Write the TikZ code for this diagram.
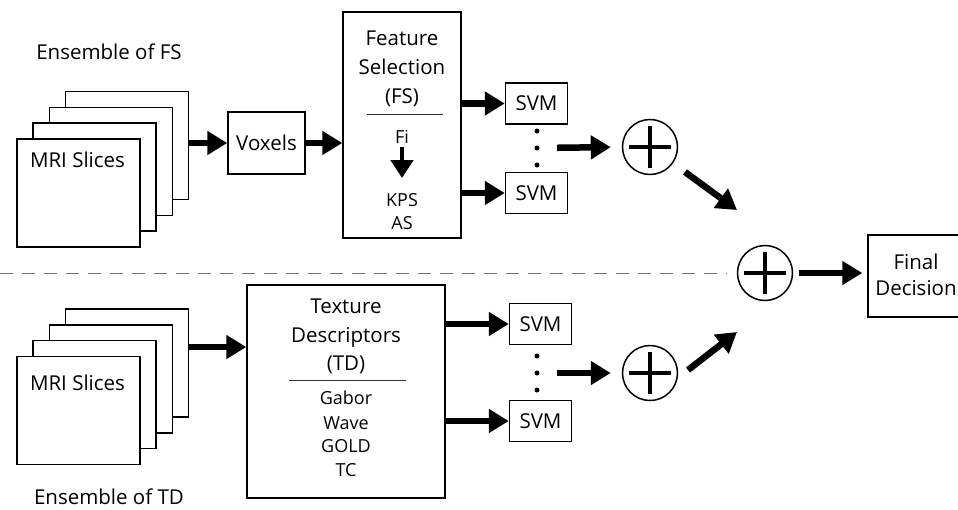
\documentclass[tikz,border=0pt]{standalone}
\usepackage{fontspec}
\setmainfont{Open Sans}
\usetikzlibrary{arrows.meta}
\begin{document}
\begin{tikzpicture}[x=1pt,y=-1pt,
  box/.style={draw,line width=1.5pt,fill=white,inner sep=0pt,
    font=\fontsize{20.5}{24}\selectfont,align=center},
  slice/.style={box,minimum width=123pt,minimum height=108pt},
  svmbox/.style={box,minimum width=62pt,minimum height=41pt},
  lbl/.style={font=\fontsize{20.5}{24}\selectfont,inner sep=0pt,anchor=base},
  small/.style={font=\fontsize{18}{22}\selectfont,inner sep=0pt,anchor=base},
  bigarrow/.style={line width=6.5pt,-{Triangle[length=20pt,width=23pt]}},
  midarrow/.style={line width=4.5pt,-{Triangle[length=18pt,width=22pt]}},
  dot/.style={circle,fill=black,inner sep=0pt,minimum size=5pt},
  rule/.style={line width=0.8pt,black!80},
  oplus/.style={circle,draw,line width=1.5pt,minimum size=55pt,inner sep=0pt,
    path picture={
      \draw[line width=4pt]
        ([xshift=-21pt]path picture bounding box.center) --
        ([xshift=21pt]path picture bounding box.center);
      \draw[line width=4pt]
        ([yshift=-21pt]path picture bounding box.center) --
        ([yshift=21pt]path picture bounding box.center);
    }},
]
\fill[white] (0,0) rectangle (958,509);
\useasboundingbox (0,0) rectangle (958,509);

% ---------- upper branch: feature selection ----------
\node[lbl] (ensFS) at (109,59) {Ensemble of FS};
\node[slice] (fsD) at (127,145.5) {};
\node[slice] (fsC) at (110.8,161.3) {};
\node[slice] (fsB) at (94.6,177.1) {};
\node[slice] (fsA) at (78.4,192.9) {};
\node[lbl] (mriA) at (77.5,167) {MRI Slices};

\node[box,minimum width=77pt,minimum height=62pt] (vox) at (266.5,143) {Voxels};

\node[box,minimum width=118pt,minimum height=226pt] (fs) at (402,125) {};
\node[lbl] (fsT1) at (402,45) {Feature};
\node[lbl] (fsT2) at (402,74) {Selection};
\node[lbl] (fsT3) at (402,103) {(FS)};
\coordinate (fsRuleL) at (367,114);
\coordinate (fsRuleR) at (443,114);
\draw[rule] (fsRuleL) -- (fsRuleR);
\node[small] (fi) at (402,143.5) {Fi};
\node[small] (kps) at (402,206.5) {KPS};
\node[small] (as) at (402,229.5) {AS};
\coordinate (fiA) at (402,147);
\coordinate (fiB) at (402,178);
\draw[midarrow] (fiA) -- (fiB);

\node[svmbox] (svmA1) at (536.5,103.5) {SVM};
\node[svmbox] (svmA2) at (536.5,193) {SVM};
\node[dot] (dA1) at (537,131) {};
\node[dot] (dA2) at (537,148) {};
\node[dot] (dA3) at (537,165) {};

\node[oplus] (plusA) at (650,147) {};

\draw[bigarrow] (vox.west -| fsD.east) -- (vox.west);
\draw[bigarrow] (vox.east) -- (vox.east -| fs.west);
\draw[bigarrow] (svmA1.west -| fs.east) -- (svmA1.west);
\draw[bigarrow] (svmA2.west -| fs.east) -- (svmA2.west);
\draw[bigarrow,shorten <=20pt,shorten >=11pt] (dA2.center) -- (plusA.west);

% ---------- separator ----------
\node[oplus] (plusC) at (765,273) {};
\coordinate (sepL) at (0,273);
\coordinate (sepR) at (727,273);
\draw[black!55,line width=1pt,dash pattern=on 13pt off 9pt] (sepL) -- (sepR);

% ---------- lower branch: texture descriptors ----------
\node[slice] (tdD) at (127,363) {};
\node[slice] (tdC) at (110.8,378.8) {};
\node[slice] (tdB) at (94.6,394.6) {};
\node[slice] (tdA) at (78.4,410.4) {};
\node[lbl] (mriB) at (77.5,390) {MRI Slices};
\node[lbl] (ensTD) at (109,504) {Ensemble of TD};

\node[box,minimum width=198pt,minimum height=213pt] (td) at (346,391.5) {};
\node[lbl] (tdT1) at (346,313) {Texture};
\node[lbl] (tdT2) at (346,342) {Descriptors};
\node[lbl] (tdT3) at (346,370) {(TD)};
\coordinate (tdRuleL) at (289,380);
\coordinate (tdRuleR) at (406,380);
\draw[rule] (tdRuleL) -- (tdRuleR);
\node[small] (gab) at (346,404.5) {Gabor};
\node[small] (wav) at (346,429.5) {Wave};
\node[small] (gold) at (346,452.5) {GOLD};
\node[small] (tc) at (346,476.5) {TC};

\node[svmbox] (svmB1) at (540.5,324) {SVM};
\node[svmbox] (svmB2) at (540.5,421) {SVM};
\node[dot] (dB1) at (537,356) {};
\node[dot] (dB2) at (537,373) {};
\node[dot] (dB3) at (537,390) {};

\node[oplus] (plusB) at (650,373) {};

\draw[bigarrow] (tdD.east |- 0,347) -- (td.west |- 0,347);
\draw[bigarrow] (svmB1.west -| td.east) -- (svmB1.west);
\draw[bigarrow] (svmB2.west -| td.east) -- (svmB2.west);
\draw[bigarrow,shorten <=20pt,shorten >=11pt] (dB2.center) -- (plusB.west);

% ---------- fusion ----------
\coordinate (upA) at (685,172);
\coordinate (upB) at (737,210);
\coordinate (loA) at (688,370);
\coordinate (loB) at (737,332);
\draw[bigarrow] (upA) -- (upB);
\draw[bigarrow] (loA) -- (loB);

\node[box,minimum width=102pt,minimum height=82pt] (final) at (919,276) {};
\node[lbl] (finT1) at (916,269) {Final};
\node[lbl] (finT2) at (916,295) {Decision};
\draw[bigarrow,shorten <=6pt,shorten >=5pt] (plusC.east) -- (plusC.east -| final.west);
\end{tikzpicture}
\end{document}
